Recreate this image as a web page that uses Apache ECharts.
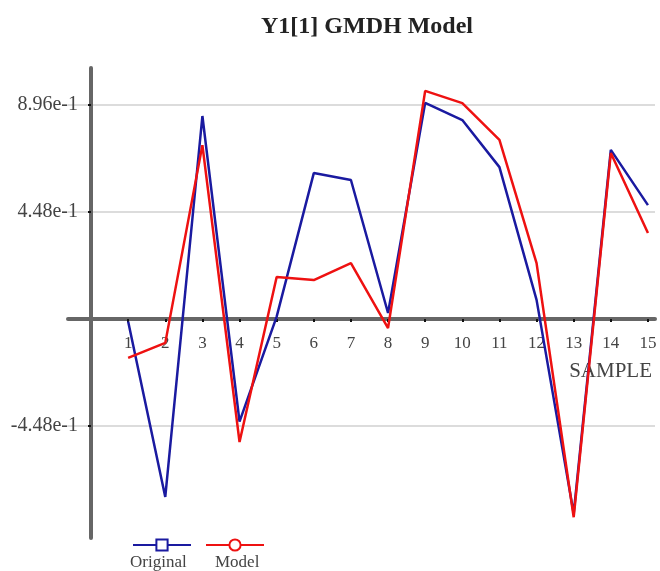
<!DOCTYPE html>
<html>
<head>
<meta charset="utf-8">
<script src="https://cdn.jsdelivr.net/npm/echarts@6/dist/echarts.min.js"></script>
<style>
  html, body { margin: 0; padding: 0; background: #fff; }
  #chart { width: 660px; height: 571px; }
</style>
</head>
<body>
<div id="chart"></div>
<script>
// samples 1..15
const samples = [1, 2, 3, 4, 5, 6, 7, 8, 9, 10, 11, 12, 13, 14, 15]
const original = [-0.01, -0.745, 0.85, -0.43, 0.01, 0.611, 0.582, 0.025, 0.905, 0.833, 0.636, 0.08, -0.815, 0.708, 0.477]
const model = [-0.163, -0.10, 0.728, -0.515, 0.176, 0.163, 0.234, -0.038, 0.955, 0.904, 0.75, 0.234, -0.83, 0.695, 0.36]
const yTicks = [-0.448, 0.448, 0.896]

const serif = '"Liberation Serif", "Times New Roman", serif'

const chart = echarts.init(document.getElementById('chart'))

const option = {
  animation: false,
  backgroundColor: '#fff',
  title: {
    text: 'Y1[1] GMDH Model',
    left: 256,
    top: 10,
    textStyle: { fontFamily: serif, fontSize: 24, fontWeight: 'bold', color: '#222' }
  },
  legend: {
    left: 132,
    top: 538,
    padding: 0,
    itemWidth: 58,
    itemHeight: 14,
    itemGap: 13,
    formatter: () => '',
    data: ['Original', 'Model']
  },
  graphic: [
    { type: 'text', left: 130, top: 554, style: { text: 'Original', font: '17px ' + serif, fill: '#444' } },
    { type: 'text', left: 215, top: 554, style: { text: 'Model', font: '17px ' + serif, fill: '#444' } }
  ],
  grid: { left: 68, right: 5, top: 68, bottom: 33, outerBoundsMode: 'none', containLabel: false },
  xAxis: {
    type: 'value',
    min: -0.62,
    max: 15.19,
    offset: -219,
    name: 'SAMPLE',
    nameLocation: 'end',
    nameGap: 0,
    nameTextStyle: {
      fontFamily: serif, fontSize: 21, color: '#444',
      align: 'right', verticalAlign: 'top', padding: [42, 3, 0, 0]
    },
    axisLine: { onZero: false, lineStyle: { color: '#666', width: 4 } },
    axisTick: { show: true, customValues: samples, length: 3, lineStyle: { color: '#111', width: 2 } },
    axisLabel: { customValues: samples, fontFamily: serif, fontSize: 17, color: '#444', margin: 16 },
    splitLine: { show: false }
  },
  yAxis: {
    type: 'value',
    min: -0.917,
    max: 1.051,
    offset: -23,
    axisLine: { onZero: false, lineStyle: { color: '#666', width: 4 } },
    axisTick: { show: true, customValues: yTicks, length: 3, lineStyle: { color: '#111', width: 2 } },
    axisLabel: {
      customValues: yTicks,
      fontFamily: serif, fontSize: 20, color: '#444', margin: 13,
      formatter: v => v.toExponential(2)
    },
    splitLine: { show: true, lineStyle: { color: '#dcdcdc', width: 2 } }
  },
  series: [
    {
      name: 'Original',
      type: 'line',
      data: samples.map((s, i) => [s, original[i]]),
      symbol: 'emptyRect',
      symbolSize: 10,
      showSymbol: false,
      lineStyle: { color: '#1a1aa0', width: 2.5 },
      itemStyle: { color: '#1a1aa0', borderWidth: 2 },
      z: 3
    },
    {
      name: 'Model',
      type: 'line',
      data: samples.map((s, i) => [s, model[i]]),
      symbol: 'emptyCircle',
      symbolSize: 10,
      showSymbol: false,
      lineStyle: { color: '#ee1111', width: 2.5 },
      itemStyle: { color: '#ee1111', borderWidth: 2 },
      z: 4
    }
  ]
}

chart.setOption(option)
</script>
</body>
</html>
